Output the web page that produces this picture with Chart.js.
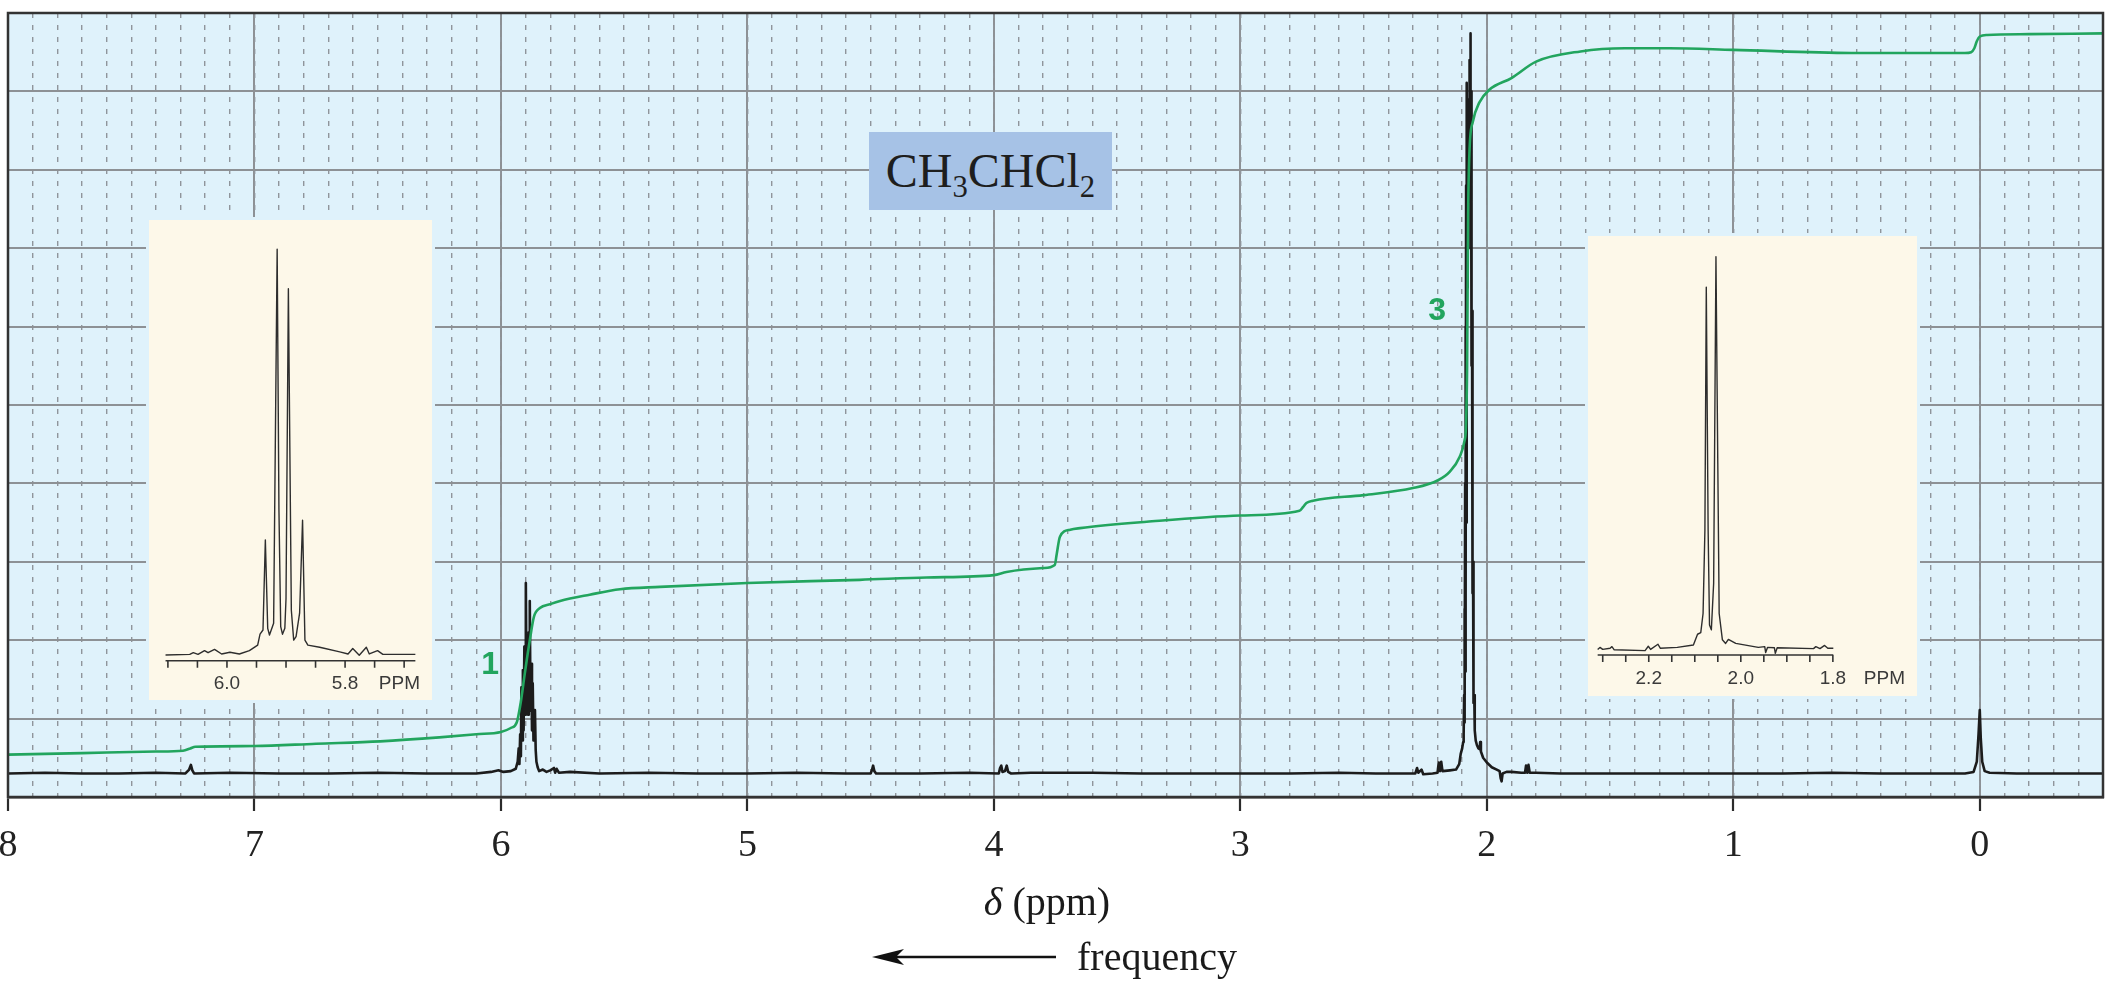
<!DOCTYPE html>
<html>
<head>
<meta charset="utf-8">
<title>CH3CHCl2 - 1H NMR</title>
<script src="https://cdn.jsdelivr.net/npm/chart.js@4.4.1/dist/chart.umd.min.js"></script>
<style>
  html, body { margin: 0; padding: 0; background: #fff; }
  #wrap { position: relative; width: 2110px; height: 982px; overflow: hidden; }
  #main { position: absolute; left: 0; top: 0; }
  .inset { position: absolute; background: #fdf8e9; outline: 3px solid #dff2fb; }
  .inset canvas { position: absolute; left: 0; top: 0; }
  #inset1 { left: 149px; top: 220px; width: 283px; height: 480px; }
  #inset2 { left: 1588px; top: 236px; width: 329px; height: 460px; }
  #formula {
    position: absolute; left: 869px; top: 132px; width: 243px; height: 78px;
    background: #a6c2e6; color: #1e1e1e; text-align: center;
    font: 48px "Liberation Serif", "Times New Roman", serif; line-height: 78px;
  }
  #formula sub { font-size: 0.64em; vertical-align: baseline; position: relative; top: 0.34em; }
  .caption { position: absolute; color: #1a1a1a; font: 40px "Liberation Serif", "Times New Roman", serif; line-height: 48px; white-space: nowrap; }
  #xtitle { left: 847px; top: 878px; width: 400px; text-align: center; }
  #xtitle i { font-style: italic; }
  #freq { left: 1077px; top: 933px; }
  #arrow { position: absolute; left: 870px; top: 947px; }
</style>
</head>
<body>
<div id="wrap">
  <canvas id="main" width="2110" height="982"></canvas>
  <div id="formula">CH<sub>3</sub>CHCl<sub>2</sub></div>
  <div class="inset" id="inset1"><canvas id="c1" width="283" height="480"></canvas></div>
  <div class="inset" id="inset2"><canvas id="c2" width="329" height="460"></canvas></div>
  <div class="caption" id="xtitle"><i>δ</i> (ppm)</div>
  <svg id="arrow" width="190" height="20">
    <line x1="24" y1="10" x2="186" y2="10" stroke="#111" stroke-width="2.6"/>
    <polygon points="2,10 34,2 26,10 34,18" fill="#111"/>
  </svg>
  <div class="caption" id="freq">frequency</div>
</div>
<script>
(() => {
  "use strict";

// ---- main spectrum ----
const X_TICKS = [0, 1, 2, 3, 4, 5, 6, 7, 8];
const X_TICK_LABELS = ["0", "1", "2", "3", "4", "5", "6", "7", "8"];
const Y_GRID = [0, 1, 2, 3, 4, 5, 6, 7, 8, 9, 10];

const SPEC_PPM = [
  8.00, 7.85, 7.70, 7.55, 7.40, 7.28, 7.265, 7.258, 7.252, 7.245, 7.10, 6.90, 6.70, 6.50, 6.30, 6.10,
  6.04, 6.01, 5.99, 5.96, 5.94, 5.932, 5.928, 5.925, 5.922, 5.919, 5.917, 5.914, 5.911, 5.908, 5.905,
  5.902, 5.899, 5.896, 5.893, 5.890, 5.887, 5.885, 5.883, 5.880, 5.877, 5.874, 5.871, 5.868, 5.865,
  5.862, 5.859, 5.856, 5.851, 5.845, 5.83, 5.815, 5.80, 5.785, 5.78, 5.774, 5.765, 5.72, 5.60, 5.40,
  5.20, 5.00, 4.80, 4.60, 4.50, 4.495, 4.49, 4.485, 4.478, 4.30, 4.10, 3.98, 3.975, 3.97, 3.965, 3.955,
  3.948, 3.942, 3.93, 3.85, 3.75, 3.60, 3.40, 3.20, 3.00, 2.80, 2.60, 2.45, 2.33, 2.29, 2.283, 2.278,
  2.265, 2.258, 2.22, 2.20, 2.195, 2.19, 2.185, 2.18, 2.15, 2.125, 2.112, 2.106, 2.100, 2.096,
  2.094, 2.092, 2.091, 2.090, 2.089, 2.088, 2.087, 2.086, 2.085, 2.084, 2.083,
  2.082, 2.081, 2.0805, 2.080, 2.079, 2.078, 2.077, 2.076, 2.075, 2.074, 2.073,
  2.072, 2.071, 2.070, 2.069, 2.068, 2.067, 2.066, 2.065, 2.064, 2.063, 2.062,
  2.061, 2.060, 2.059, 2.058, 2.057, 2.056, 2.055, 2.054, 2.053, 2.051, 2.049,
  2.045, 2.040, 2.034, 2.029, 2.027, 2.024, 2.015, 2.00, 1.98, 1.96, 1.948, 1.944, 1.940, 1.936, 1.92,
  1.90, 1.86, 1.845, 1.841, 1.836, 1.831, 1.826, 1.80, 1.70, 1.50, 1.20, 1.00, 0.80, 0.60, 0.40, 0.20,
  0.06, 0.025, 0.012, 0.005, 0.000, -0.004, -0.010, -0.02, -0.04, -0.15, -0.30, -0.50
];
const SPEC_INT = [
  0.30, 0.31, 0.30, 0.30, 0.31, 0.30, 0.35, 0.41, 0.34, 0.30, 0.31, 0.30, 0.30, 0.31, 0.30, 0.30,
  0.32, 0.34, 0.32, 0.33, 0.36, 0.45, 0.62, 0.42, 0.80, 0.52, 1.40, 0.72, 1.62, 0.85, 1.92,
  1.05, 2.73, 1.30, 1.95, 1.05, 2.10, 1.25, 2.50, 1.10, 1.70, 0.85, 1.45, 0.72, 1.00,
  1.11, 0.60, 0.45, 0.38, 0.33, 0.35, 0.32, 0.34, 0.37, 0.31, 0.36, 0.31, 0.32, 0.30, 0.31,
  0.30, 0.30, 0.31, 0.30, 0.30, 0.34, 0.40, 0.33, 0.30, 0.30, 0.31, 0.30, 0.37, 0.40, 0.32, 0.33,
  0.40, 0.32, 0.30, 0.31, 0.31, 0.31, 0.30, 0.30, 0.30, 0.30, 0.31, 0.30, 0.30, 0.30, 0.37, 0.31,
  0.35, 0.29, 0.30, 0.31, 0.44, 0.33, 0.45, 0.33, 0.34, 0.35, 0.42, 0.55, 0.62, 0.70,
  0.80, 1.30, 0.95, 2.40, 1.10, 4.00, 1.60, 6.00, 2.50, 7.80, 3.50,
  8.70, 5.00, 9.11, 6.50, 8.90, 7.00, 8.60, 7.20, 8.40, 7.00, 8.50,
  7.60, 9.10, 8.00, 9.40, 8.30, 9.60, 9.74, 8.20, 9.00, 6.80, 7.44,
  5.50, 6.20, 4.00, 4.60, 2.60, 3.00, 1.80, 2.00, 1.20, 1.30, 0.85,
  0.72, 0.66, 0.62, 0.61, 0.70, 0.58, 0.50, 0.44, 0.38, 0.35, 0.33, 0.24, 0.20, 0.30, 0.32,
  0.32, 0.31, 0.31, 0.40, 0.31, 0.41, 0.31, 0.31, 0.30, 0.30, 0.30, 0.30, 0.30, 0.31, 0.30, 0.30,
  0.30, 0.32, 0.45, 0.80, 1.11, 0.75, 0.45, 0.33, 0.31, 0.30, 0.30, 0.30
];

const INTEG_PPM = [
  8.00, 7.70, 7.40, 7.29, 7.26, 7.24, 7.00, 6.75, 6.49, 6.25, 6.10, 6.00, 5.96, 5.936, 5.92, 5.903,
  5.883, 5.866, 5.842, 5.80, 5.76, 5.64, 5.517, 5.355, 5.00, 4.544, 4.273, 4.00, 3.949, 3.80, 3.753,
  3.745, 3.732, 3.69, 3.65, 3.38, 3.00, 2.76, 2.745, 2.732, 2.705, 2.50, 2.30, 2.198, 2.15, 2.11,
  2.09, 2.085, 2.080, 2.076, 2.070, 2.057, 2.03, 1.99, 1.90, 1.80, 1.62, 1.44, 1.26, 1.00, 0.52,
  0.06, 0.035, 0.022, 0.012, 0.000, -0.03, -0.20, -0.50
];
const INTEG_VAL = [
  0.54, 0.56, 0.58, 0.59, 0.62, 0.64, 0.65, 0.68, 0.71, 0.76, 0.80, 0.83, 0.88, 0.95, 1.20, 1.58,
  2.00, 2.30, 2.41, 2.46, 2.50, 2.58, 2.65, 2.68, 2.73, 2.77, 2.80, 2.83, 2.87, 2.92, 2.96,
  3.10, 3.32, 3.41, 3.43, 3.51, 3.59, 3.65, 3.70, 3.75, 3.78, 3.85, 3.94, 4.04, 4.15, 4.34,
  4.55, 4.70, 5.50, 7.39, 8.26, 8.61, 8.86, 9.02, 9.17, 9.38, 9.51, 9.55, 9.55, 9.53, 9.49,
  9.49, 9.50, 9.55, 9.64, 9.70, 9.72, 9.73, 9.74
];

const PEAK_LABELS = ["1", "3"];

// ---- inset 1: CH quartet ----
const INSET1_PPM = [
  6.104, 6.063, 6.057, 6.049, 6.038, 6.032, 6.021, 6.009, 5.995, 5.979, 5.962, 5.948, 5.944, 5.939,
  5.935, 5.931, 5.928, 5.921, 5.915, 5.912, 5.909, 5.906, 5.902, 5.900, 5.896, 5.891, 5.887, 5.883,
  5.877, 5.872, 5.868, 5.863, 5.843, 5.809, 5.795, 5.787, 5.776, 5.764, 5.759, 5.745, 5.736, 5.681
];
const INSET1_INT = [
  1.35, 1.5, 1.9, 1.5, 2.4, 1.9, 2.7, 1.6, 2.0, 1.6, 2.4, 3.7, 6.3, 7.3,
  28.7, 7.7, 6.1, 8.9, 97.8, 36.0, 8.1, 6.3, 7.7, 14.8, 88.4, 12.0, 4.9, 5.7,
  11.3, 33.4, 4.9, 3.7, 3.2, 2.1, 1.6, 2.9, 1.3, 3.2, 1.6, 2.4, 1.5, 1.5
];
const INSET1_TICKS = [6.10, 6.05, 6.00, 5.95, 5.90, 5.85, 5.80, 5.75, 5.70];
const INSET1_LABEL_AT = [6.0, 5.8, 5.708];
const INSET1_LABELS = ["6.0", "5.8", "PPM"];

// ---- inset 2: CH3 doublet ----
const INSET2_PPM = [
  2.311, 2.306, 2.300, 2.284, 2.280, 2.275, 2.208, 2.201, 2.196, 2.180, 2.175, 2.138, 2.103, 2.094,
  2.087, 2.082, 2.078, 2.075, 2.071, 2.068, 2.064, 2.059, 2.054, 2.050, 2.047, 2.040, 2.033, 2.027,
  2.011, 1.962, 1.948, 1.946, 1.942, 1.927, 1.925, 1.921, 1.842, 1.837, 1.828, 1.818, 1.811, 1.799
];
const INSET2_INT = [
  1.4, 1.9, 1.4, 1.7, 2.1, 1.3, 1.1, 2.2, 1.4, 2.7, 1.7, 1.9, 2.5, 5.2,
  5.6, 10.4, 31.3, 92.2, 31.3, 7.5, 6.3, 18.0, 99.8, 48.0, 10.4, 3.8, 2.9, 3.9,
  2.9, 1.9, 2.1, 0.6, 1.9, 1.8, 0.4, 1.8, 1.6, 2.1, 1.6, 2.4, 1.7, 1.7
];
const INSET2_TICKS = [2.30, 2.25, 2.20, 2.15, 2.10, 2.05, 2.00, 1.95, 1.90, 1.85, 1.80];
const INSET2_LABEL_AT = [2.2, 2.0, 1.8, 1.688];
const INSET2_LABELS = ["2.2", "2.0", "1.8", "PPM"];

const SERIF = '"Liberation Serif", "Times New Roman", serif';
const SANS = '"Liberation Sans", Arial, sans-serif';
const GREEN = "#22a55e";
const PLOT_BG = "#dff2fb";
const GRID = "#8d9195";

const pts = (xs, ys) => xs.map((x, i) => ({ x, y: ys[i] }));

const plotBg = {
  id: "plotBg",
  beforeDraw(chart) {
    const { ctx, chartArea: a } = chart;
    ctx.save();
    ctx.fillStyle = PLOT_BG;
    ctx.fillRect(a.left, a.top, a.right - a.left, a.bottom - a.top);
    ctx.restore();
  }
};

const frame = {
  id: "frame",
  afterDraw(chart) {
    const { ctx, chartArea: a } = chart;
    ctx.save();
    ctx.strokeStyle = "#333";
    ctx.lineWidth = 2.5;
    ctx.strokeRect(a.left, a.top, a.right - a.left, a.bottom - a.top);
    ctx.restore();
  }
};

// integration numbers, placed next to the steps of the integral curve
const peakLabels = {
  id: "peakLabels",
  afterDatasetsDraw(chart) {
    const { ctx, scales: { x, y } } = chart;
    const at = [[6.044, 1.68], [2.202, 6.2]];
    ctx.save();
    ctx.fillStyle = GREEN;
    ctx.font = "bold 32px " + SANS;
    ctx.textAlign = "center";
    ctx.textBaseline = "middle";
    PEAK_LABELS.forEach((t, i) => ctx.fillText(t, x.getPixelForValue(at[i][0]), y.getPixelForValue(at[i][1])));
    ctx.restore();
  }
};

// little ppm rulers under the insets
const insetAxis = {
  id: "insetAxis",
  afterDraw(chart, args, opts) {
    const { ctx, scales: { x }, chartArea: a } = chart;
    const y0 = a.bottom;
    ctx.save();
    ctx.strokeStyle = "#333";
    ctx.lineWidth = 1.6;
    ctx.beginPath();
    ctx.moveTo(x.getPixelForValue(opts.from), y0);
    ctx.lineTo(x.getPixelForValue(opts.to), y0);
    opts.ticks.forEach(v => {
      const px = x.getPixelForValue(v);
      ctx.moveTo(px, y0);
      ctx.lineTo(px, y0 + 7);
    });
    ctx.stroke();
    ctx.restore();
  }
};

new Chart(document.getElementById("main"), {
  type: "line",
  data: {
    datasets: [
      {
        label: "integral",
        data: pts(INTEG_PPM, INTEG_VAL),
        borderColor: GREEN,
        borderWidth: 2.6,
        pointRadius: 0,
        cubicInterpolationMode: "monotone",
        order: 1
      },
      {
        label: "spectrum",
        data: pts(SPEC_PPM, SPEC_INT),
        borderColor: "#1c1c1c",
        borderWidth: 2.6,
        borderJoinStyle: "round",
        pointRadius: 0,
        tension: 0,
        order: 2
      }
    ]
  },
  options: {
    responsive: false,
    devicePixelRatio: 1,
    animation: false,
    events: [],
    layout: { padding: { left: 8, right: 7, top: 13, bottom: 0 } },
    plugins: { legend: { display: false }, tooltip: { enabled: false } },
    scales: {
      x: {
        type: "linear", position: "bottom", min: -0.5, max: 8, reverse: true,
        afterBuildTicks: s => { s.ticks = X_TICKS.map(v => ({ value: v })); },
        afterFit: s => { s.height = 185; },
        ticks: {
          autoSkip: false, maxRotation: 0, padding: 12, color: "#222",
          font: { family: SERIF, size: 38 },
          callback: (v, i) => X_TICK_LABELS[i]
        },
        grid: { color: GRID, lineWidth: 2, drawTicks: true, tickLength: 14, tickColor: "#2b2b2b", tickWidth: 2.2 },
        border: { display: true, color: "#333", width: 2.5 }
      },
      xm: {
        type: "linear", position: "bottom", min: -0.5, max: 8, reverse: true,
        afterFit: s => { s.height = 0; },
        ticks: { display: false, stepSize: 0.1, autoSkip: false },
        grid: { color: "#8f959b", lineWidth: 1.4, drawTicks: false },
        border: { display: false, dash: [5, 7] }
      },
      y: {
        min: 0, max: 10,
        afterBuildTicks: s => { s.ticks = Y_GRID.map(v => ({ value: v })); },
        afterFit: s => { s.width = 0; },
        ticks: { display: false },
        grid: { color: GRID, lineWidth: 2, drawTicks: false },
        border: { display: false }
      }
    }
  },
  plugins: [plotBg, peakLabels, frame]
});

function insetChart(id, xs, ys, range, labelAt, labels, axisH, axis) {
  return new Chart(document.getElementById(id), {
    type: "line",
    data: {
      datasets: [{
        data: pts(xs, ys),
        borderColor: "#2e2e2e",
        borderWidth: 1.4,
        borderJoinStyle: "round",
        pointRadius: 0,
        tension: 0
      }]
    },
    options: {
      responsive: false,
      devicePixelRatio: 1,
      animation: false,
      events: [],
      layout: { padding: { left: 0, right: 0, top: 20, bottom: 0 } },
      plugins: { legend: { display: false }, tooltip: { enabled: false }, insetAxis: axis },
      scales: {
        x: {
          type: "linear", min: range[1], max: range[0], reverse: true,
          afterBuildTicks: s => { s.ticks = labelAt.map(v => ({ value: v })); },
          afterFit: s => { s.height = axisH; },
          ticks: {
            autoSkip: false, maxRotation: 0, padding: 12, color: "#3a3a3a",
            font: { family: SANS, size: 19 },
            callback: (v, i) => labels[i]
          },
          grid: { display: false, drawTicks: false },
          border: { display: false }
        },
        y: { display: false, min: 0, max: 100 }
      }
    },
    plugins: [insetAxis]
  });
}

insetChart("c1", INSET1_PPM, INSET1_INT, [6.132, 5.654], INSET1_LABEL_AT, INSET1_LABELS, 39.3,
  { from: 6.104, to: 5.681, ticks: INSET1_TICKS });
insetChart("c2", INSET2_PPM, INSET2_INT, [2.332, 1.638], INSET2_LABEL_AT, INSET2_LABELS, 41,
  { from: 2.311, to: 1.799, ticks: INSET2_TICKS });
})();
</script>
</body>
</html>
